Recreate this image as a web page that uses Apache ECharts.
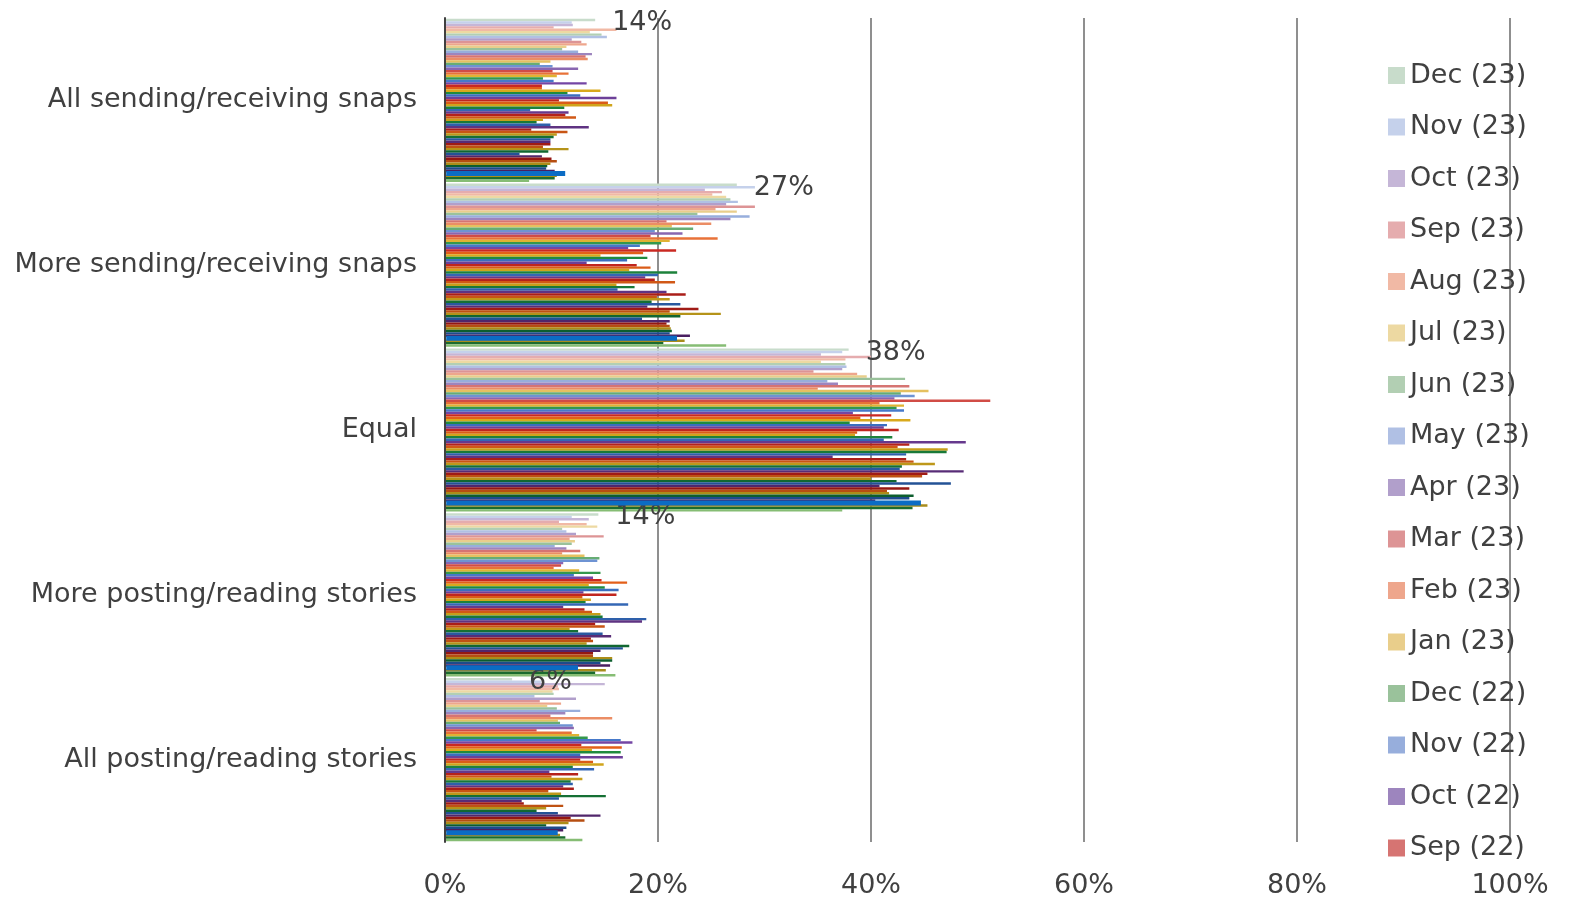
<!DOCTYPE html>
<html><head><meta charset="utf-8">
<script src="https://cdn.jsdelivr.net/npm/echarts/dist/echarts.min.js"></script>
<style>html,body{margin:0;padding:0;background:#fff}#c{width:1570px;height:901px}</style>
</head><body><div id="c"></div>
<script>
const categories = ['All sending/receiving snaps','More sending/receiving snaps','Equal','More posting/reading stories','All posting/reading stories'];

const waves = [
 'Dec (23)','Nov (23)','Oct (23)','Sep (23)','Aug (23)','Jul (23)','Jun (23)','May (23)','Apr (23)','Mar (23)','Feb (23)','Jan (23)',
 'Dec (22)','Nov (22)','Oct (22)','Sep (22)','Aug (22)','Jul (22)','Jun (22)','May (22)','Apr (22)','Mar (22)','Feb (22)','Jan (22)',
 'Dec (21)','Nov (21)','Oct (21)','Sep (21)','Aug (21)','Jul (21)','Jun (21)','May (21)','Apr (21)','Mar (21)','Feb (21)','Jan (21)',
 'Dec (20)','Nov (20)','Oct (20)','Sep (20)','Aug (20)','Jul (20)','Jun (20)','May (20)','Apr (20)','Mar (20)','Feb (20)','Jan (20)',
 'Dec (19)','Nov (19)','Oct (19)','Sep (19)','Aug (19)','Jul (19)','Jun (19)','May (19)','Apr (19)','Mar (19)','Feb (19)','Jan (19)',
 'Dec (18)','Nov (18)','Oct (18)','Sep (18)','Aug (18)','Jul (18)','Jun (18)'
];
const legendShown = waves.slice(0, 16);

const allSnaps = [14.1,11.9,12.0,10.2,16.1,13.6,14.7,15.2,11.9,12.8,
 13.3,11.4,11.0,12.5,13.8,13.2,13.4,9.9,8.9,10.1,
 12.5,10.1,11.6,10.5,9.2,10.2,13.3,9.1,9.1,14.6,
 11.5,12.7,16.1,10.7,15.3,15.7,11.2,8.0,11.6,11.3,
 12.3,9.2,8.6,9.9,13.5,8.1,11.5,10.5,10.2,9.9,
 9.9,9.9,9.2,11.6,9.7,7.0,9.1,10.0,10.5,9.9,
 9.6,9.5,10.3,11.4,10.5,10.3,7.9];
const moreSnaps = [27.4,29.1,24.4,26.0,25.1,26.4,26.8,27.5,26.4,29.1,
 25.4,27.4,23.7,28.6,26.8,20.8,25.0,21.3,23.3,19.7,
 22.3,19.3,25.6,21.1,20.3,18.3,17.2,21.7,18.6,14.6,
 19.0,17.1,13.3,18.0,19.3,17.3,21.8,20.0,18.8,19.7,
 21.6,16.1,17.8,16.2,20.8,22.6,19.9,21.1,19.4,22.1,
 19.0,23.8,21.1,25.9,22.1,18.5,21.1,20.8,21.1,21.2,
 21.3,21.1,23.0,21.9,22.5,20.5,26.4];
const equal = [37.9,37.3,35.3,40.0,37.6,35.3,37.6,37.7,37.3,34.6,
 38.7,39.6,43.2,35.9,36.9,43.6,35.0,45.4,42.8,44.1,
 42.2,51.2,40.8,43.1,42.4,43.1,38.3,41.9,39.0,43.7,
 38.0,41.5,41.2,42.6,38.7,38.5,42.0,41.2,48.9,43.6,
 42.5,47.2,47.1,43.3,36.4,43.3,44.0,46.0,42.9,42.7,
 48.7,45.3,44.8,40.0,42.4,47.5,40.8,43.6,41.5,41.7,
 44.0,43.6,40.4,44.8,45.3,43.9,37.3];
const moreStories = [14.4,11.9,13.5,10.7,13.3,14.3,11.0,11.4,12.3,14.9,
 11.7,12.2,11.9,10.3,11.4,12.7,11.0,13.1,14.5,14.3,
 11.1,10.9,10.2,12.6,14.6,12.1,13.9,14.7,17.1,13.5,
 15.0,16.3,13.0,16.1,12.9,13.7,13.2,17.2,11.1,13.1,
 13.8,14.6,14.8,18.9,18.5,14.1,15.0,11.7,12.5,14.8,
 15.6,13.7,13.9,13.3,17.3,16.7,14.6,13.9,13.9,15.7,
 15.7,14.6,15.5,12.6,15.1,14.1,16.0];
const allStories = [6.3,9.0,15.0,10.6,10.7,10.1,10.2,8.4,12.3,8.9,
 10.9,9.6,10.5,12.7,11.3,9.9,15.7,10.6,10.8,12.0,
 12.1,8.6,11.9,12.6,13.4,16.5,17.6,12.8,16.6,13.8,
 16.5,12.7,16.7,12.7,13.9,14.9,12.0,14.0,9.8,12.5,
 10.0,12.9,11.8,12.0,11.1,12.1,9.7,10.9,15.1,10.7,
 7.2,7.4,11.1,9.5,8.6,10.6,14.6,11.8,13.1,11.6,
 9.5,11.4,11.1,10.7,10.8,11.3,12.9];

const xTicks = [0, 20, 40, 60, 80, 100];

// ---- styles ----
const FONT = 'DejaVu Sans';
const TEXT = '#404040';
const hueOrder = ['G','B','P','R','O','Y'];
const ramps = {
  G: ['#c8dccb', '#9cc39c', '#239140', '#0c5b2d'],
  B: ['#c9d4ec', '#9fb3de', '#3f74c8', '#1c4a8a'],
  P: ['#cbbedb', '#a591c3', '#7446a4', '#4a1f60'],
  R: ['#e9b8ba', '#d98989', '#cc2a22', '#8c1410'],
  O: ['#f3c6b6', '#eda084', '#e6601a', '#b04c10'],
  Y: ['#f0e1b5', '#e9cd88', '#ddac1c', '#a88a18']
};
const rampStops = [0, 0.19, 0.42, 1];
const overrides = {63: '#0b6cc4', 64: '#a88d1c', 65: '#1b6b2e', 66: '#86bd74'};
function h2r(h){return [1,3,5].map(k=>parseInt(h.slice(k,k+2),16));}
function r2h(c){return '#'+c.map(v=>Math.round(v).toString(16).padStart(2,'0')).join('');}
function seriesColor(i){
  if (overrides[i]) return overrides[i];
  const ramp = ramps[hueOrder[i % 6]];
  const t = Math.min(i / 62, 1);
  let k = 0;
  while (k < rampStops.length - 2 && t > rampStops[k+1]) k++;
  const f = (t - rampStops[k]) / (rampStops[k+1] - rampStops[k]);
  const a = h2r(ramp[k]), b = h2r(ramp[k+1]);
  return r2h(a.map((v,j)=>v + (b[j]-v)*f));
}

const series = waves.map((name, i) => {
  const color = seriesColor(i);
  const s = {
    name: name,
    type: 'bar',
    data: [allSnaps[i], moreSnaps[i], equal[i], moreStories[i], allStories[i]],
    barGap: '0%',
    barCategoryGap: '1%',
    itemStyle: { color: color },
    emphasis: { disabled: true },
    animation: false
  };
  if (i === 0) {
    s.label = {
      show: true, position: 'right', distance: 14, offset: [3, 3],
      formatter: p => Math.round(p.value) + '%',
      fontSize: 27, fontFamily: FONT, color: TEXT
    };
  }
  if (i === 63) {
    s.itemStyle = { color: color, borderColor: color, borderWidth: 5 };
    s.z = 3;
  }
  return s;
});

const chart = echarts.init(document.getElementById('c'), null, {renderer: 'canvas'});
chart.setOption({
  animation: false,
  backgroundColor: '#ffffff',
  textStyle: { fontFamily: FONT },
  grid: { left: 445, right: 60, top: 18, bottom: 59, containLabel: false, outerBoundsMode: 'none' },
  legend: {
    data: legendShown,
    orient: 'vertical',
    left: 1383, top: 57,
    icon: 'rect', itemWidth: 17, itemHeight: 17, itemGap: 24.5,
    selectedMode: false,
    textStyle: { fontSize: 27, fontFamily: FONT, color: TEXT, lineHeight: 27 }
  },
  xAxis: {
    type: 'value', min: xTicks[0], max: xTicks[xTicks.length-1], interval: 20,
    axisLine: { show: false }, axisTick: { show: false },
    axisLabel: { formatter: v => v + '%', fontSize: 27, fontFamily: FONT, color: TEXT, margin: 30 },
    splitLine: { show: true, lineStyle: { color: '#8f8f8f', width: 2 } }
  },
  yAxis: {
    type: 'category', data: categories, inverse: true, z: 10,
    axisLine: { show: true, lineStyle: { color: '#404040', width: 2 } },
    axisTick: { show: false },
    axisLabel: { fontSize: 27, fontFamily: FONT, color: TEXT, margin: 28, padding: [4, 0, 0, 0] },
    splitLine: { show: false }
  },
  series: series
});
</script>
</body></html>
